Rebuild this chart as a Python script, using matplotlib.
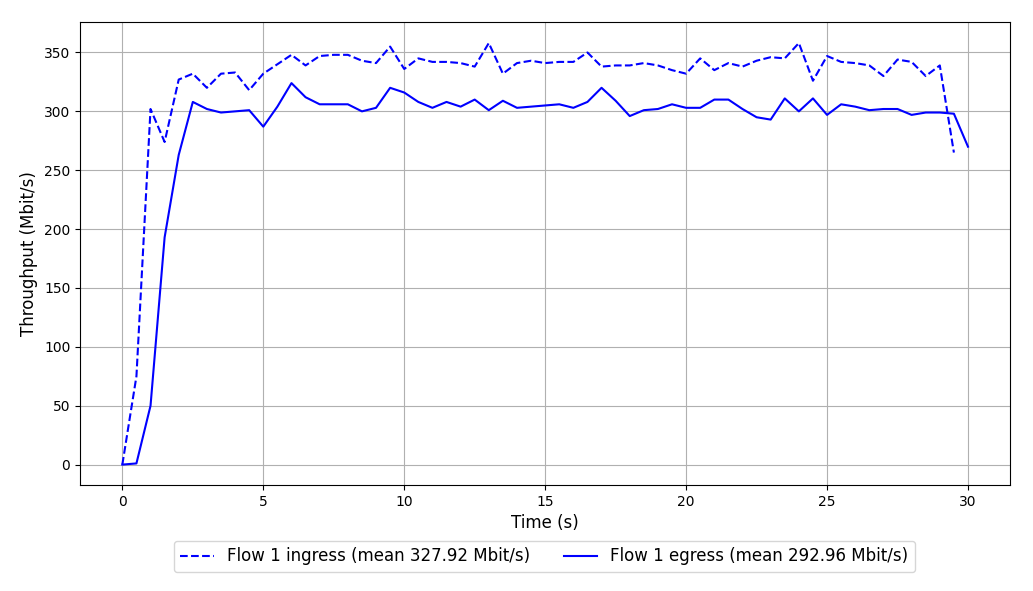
import matplotlib
matplotlib.use("Agg")
import matplotlib.pyplot as plt
import numpy as np

t_in = np.arange(0, 30, 0.5)
ingress = [0, 75, 302, 274, 327, 332, 320, 332, 333, 318, 332, 340, 348, 339, 347, 348, 348, 343, 341, 355,
           336, 345, 342, 342, 341, 338, 358, 332, 341, 343, 341, 342, 342, 350, 338, 339, 339, 341, 339, 335,
           332, 345, 335, 341, 338, 343, 346, 345, 358, 326, 347, 342, 341, 339, 330, 344, 342, 330, 339, 265]
t_eg = np.arange(0, 30.5, 0.5)
egress = [0, 1, 50, 193, 263, 308, 302, 299, 300, 301, 287, 304, 324, 312, 306, 306, 306, 300, 303, 320,
          316, 308, 303, 308, 304, 310, 301, 309, 303, 304, 305, 306, 303, 308, 320, 309, 296, 301, 302, 306,
          303, 303, 310, 310, 302, 295, 293, 311, 300, 311, 297, 306, 304, 301, 302, 302, 297, 299, 299, 298, 270]

fig = plt.figure(figsize=(10.33, 5.91), dpi=100)
ax = fig.add_axes([0.0775, 0.179, 0.9005, 0.784])
ax.plot(t_in, ingress, 'b--', label='Flow 1 ingress (mean 327.92 Mbit/s)')
ax.plot(t_eg, egress, 'b-', label='Flow 1 egress (mean 292.96 Mbit/s)')
ax.set_xlim(-1.5, 31.5)
ax.set_ylim(-17.5, 376)
ax.set_xticks(range(0, 31, 5))
ax.grid(True)
ax.set_xlabel('Time (s)', fontsize=12)
ax.set_ylabel('Throughput (Mbit/s)', fontsize=12)
fig.legend(loc='lower center', bbox_to_anchor=(0.527, 0.018), ncol=2, fontsize=12)
fig.savefig('out.png')
